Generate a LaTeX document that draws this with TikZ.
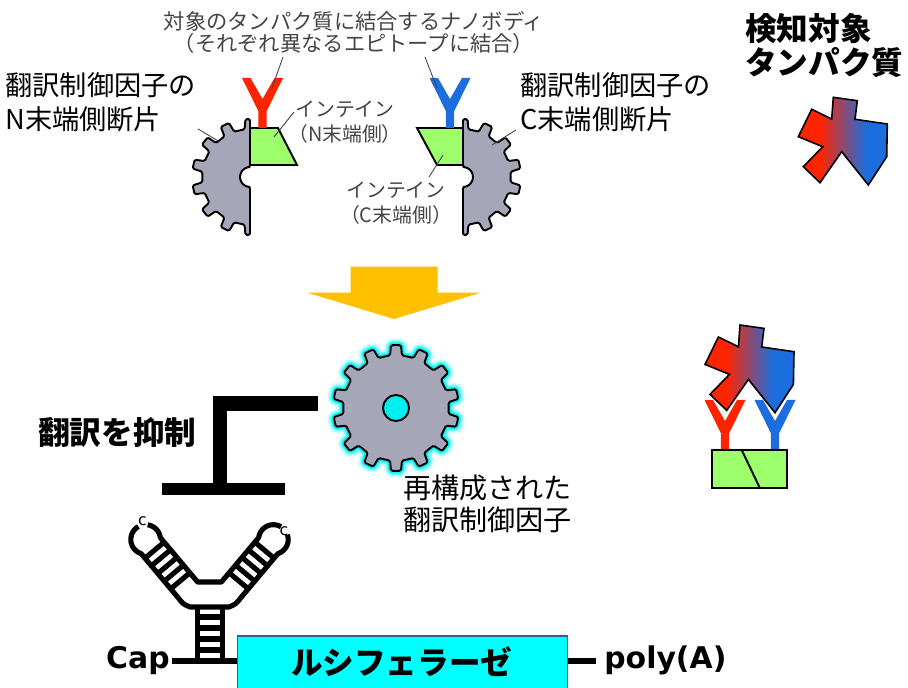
\documentclass[tikz,border=0pt]{standalone}
\usepackage{fontspec}
\newfontfamily\jp{Noto Sans CJK JP}
\newfontfamily\lat{DejaVu Sans}
\definecolor{gearGray}{HTML}{A5A7B9}
\definecolor{intGreen}{HTML}{9DFF6B}
\definecolor{nbRed}{HTML}{FF2400}
\definecolor{nbBlue}{HTML}{1C6EDE}
\definecolor{arrowYel}{HTML}{FFC000}
\definecolor{lucCyan}{HTML}{00FFFF}
\definecolor{lucEdge}{HTML}{3A5A9A}
\definecolor{glowCyan}{HTML}{00F0F0}
\definecolor{noteGray}{HTML}{444444}
\pgfdeclarehorizontalshading{protgrad}{100bp}{color(0bp)=(nbRed); color(37bp)=(nbRed); color(63bp)=(nbBlue); color(100bp)=(nbBlue)}

% full gear outline: 14 teeth, root radius 53, tip radius 63
\newcommand\fullgear{({12.857-6.5}:53) \foreach \k in {0,...,13}{ -- ({12.857+\k*25.714-6.5}:53) -- ({12.857+\k*25.714-4.5}:63) -- ({12.857+\k*25.714+4.5}:63) -- ({12.857+\k*25.714+6.5}:53)} -- cycle}
% left half of a gear with a semicircular notch on the cut edge
\newcommand\halfgear{(90:58) -- (94.5:58) -- (96.5:48) \foreach \k in {4,...,9}{ -- ({12.857+\k*25.714-6.5}:48) -- ({12.857+\k*25.714-4.5}:58) -- ({12.857+\k*25.714+4.5}:58) -- ({12.857+\k*25.714+6.5}:48)} -- (263.5:48) -- (265.5:58) -- (270:58) -- (0,-10) -- plot[domain=270:90,samples=19] ({10*cos(\x)},{10*sin(\x)}) -- cycle}

\tikzset{
  lbl/.style={font=\jp\fontsize{15.5}{19.3}\selectfont, align=left, inner sep=0pt},
  regenlbl/.style={font=\jp\fontsize{16}{18.1}\selectfont, align=left, inner sep=0pt},
  graylbl/.style={font=\jp\fontsize{12.1}{12.5}\selectfont, text=noteGray, align=center, inner sep=0pt},
  smalllbl/.style={font=\jp\fontsize{11.3}{14.2}\selectfont, text=noteGray, align=center, inner sep=0pt},
  boldlbl/.style={font=\jp\bfseries\fontsize{18}{19.8}\selectfont, align=left, inner sep=0pt},
  latbold/.style={font=\lat\bfseries\fontsize{17}{20}\selectfont, inner sep=0pt},
  leader/.style={draw=noteGray, line width=0.5pt},
  gearbody/.style={fill=gearGray, draw=black, line width=1.1pt, line join=round, rounded corners=0.8pt},
  intein/.style={fill=intGreen, draw=black, line width=1.1pt, line join=miter},
  rna/.style={draw=black, line width=2.9pt, line join=round},
  backbone/.style={draw=black, line width=3pt},
  nanobody/.pic={\fill[#1] (-20.5,0) -- (-12,0) -- (0,21) -- (12,0) -- (20.5,0) -- (4.2,33) -- (4.2,50) -- (-4.2,50) -- (-4.2,33) -- cycle;},
  protein/.pic={\shadedraw[shading=protgrad, draw=black, line width=0.9pt, line join=miter] (-21.6,12) -- (-1.6,21.7) -- (0,0) -- (24,3.4) -- (21.7,22) -- (54,26.7) -- (53.4,59.4) -- (35,87.7) -- (8.4,54.4) -- (-13.3,85.4) -- (-30,69.4) -- (-10.6,49.4) -- (-35,39.4) -- cycle;}
}

\begin{document}
\begin{tikzpicture}[x=0.02cm, y=-0.02cm]
\useasboundingbox (0,0) rectangle (908,688);
\clip (0,0) rectangle (908,688);

% ---------- split translation factor with nanobodies ----------
\node[graylbl] (nbLabel) at (354,32) {対象のタンパク質に結合するナノボディ\\（それぞれ異なるエピトープに結合）};
\node[lbl, anchor=west] (nLabel) at (5,102) {翻訳制御因子の\\N末端側断片};
\node[lbl, anchor=west] (cLabel) at (520,102) {翻訳制御因子の\\C末端側断片};
\node[smalllbl] (intNLabel) at (345,122.5) {インテイン\\（N末端側）};
\node[smalllbl] (intCLabel) at (396,203) {インテイン\\（C末端側）};

\begin{scope}[shift={(250,177)}]
  \draw[gearbody] \halfgear;
\end{scope}
\begin{scope}[shift={(463,177)}, xscale=-1]
  \draw[gearbody] \halfgear;
\end{scope}

\draw[intein] (250,128) -- (278,128) -- (297,165) -- (250,165) -- cycle;
\draw[intein] (417,128) -- (463,128) -- (463,165) -- (437,165) -- cycle;

\pic (nbN) at (262.5,78) {nanobody=nbRed};
\pic (nbC) at (450,78) {nanobody=nbBlue};

% leader lines
\draw[leader] (283,57) -- (272,88);
\draw[leader] (425,57) -- (437,88);
\draw[leader] (198,129) -- (220,142);
\draw[leader] (294,112) -- (274,137);
\draw[leader] (516,130) -- (492,145);
\draw[leader] (443,155) -- (429,177);

% ---------- target protein ----------
\node[boldlbl, anchor=west] (target) at (745,45.5) {検知対象\\タンパク質};
\pic (protTop) at (833.3,97.3) {protein};

% ---------- block arrow ----------
\fill[arrowYel] (350.7,266.7) -- (437.7,266.7) -- (437.7,292.7) -- (480.7,292.7) -- (394,319) -- (307.3,292.7) -- (350.7,292.7) -- cycle;

% ---------- reconstituted factor (glowing gear) ----------
\foreach \w/\o in {9/0.06,7.5/0.12,6/0.22,4.5/0.42,3/0.9}
  \draw[shift={(396,408)}, draw=glowCyan, line width=\w pt, opacity=\o, line join=round, rounded corners=0.8pt] \fullgear;
\draw[gearbody, shift={(396,408)}] \fullgear;
\draw[fill=glowCyan, draw=black, line width=1.1pt] (396,408) circle[radius=0.26cm];
\node[regenlbl, anchor=west] (regen) at (403,504) {再構成された\\翻訳制御因子};

% ---------- repression bar ----------
\node[boldlbl, anchor=west] (repress) at (38,432) {翻訳を抑制};
\fill (213,396) rectangle (227,489);
\fill (213,396) rectangle (318,411);
\fill (162,483) rectangle (285,495);

% ---------- assembled complex ----------
\pic (nbN2) at (725,400) {nanobody=nbRed};
\pic (nbC2) at (775,400) {nanobody=nbBlue};
\draw[intein] (711.7,450) rectangle (786.7,488.3);
\draw[black, line width=1.1pt] (741.7,450) -- (760,488.3);
\pic (protBound) at (740,325) {protein};

% ---------- mRNA with hairpin ----------
\draw[rna] (178.4,598) -- (141.1,553.6) -- plot[domain=107.7:241,samples=20] ({145.6+14.8*cos(\x)},{539.5+14.8*sin(\x)});
\draw[rna] plot[domain=278:352.6,samples=12] ({145.6+14.8*cos(\x)},{539.5+14.8*sin(\x)}) -- (160.3,537.6) -- (197.6,582) -- (221.4,582) -- (258.7,537.6) -- plot[domain=187.4:301,samples=20] ({273.4+14.8*cos(\x)},{539.5+14.8*sin(\x)});
\draw[rna] plot[domain=341:432.3,samples=15] ({273.4+14.8*cos(\x)},{539.5+14.8*sin(\x)}) -- (277.9,553.6) -- (240.6,598) .. controls (236,604) .. (229,607) -- (190,607) .. controls (183,604) .. (178.4,598);
\foreach \d in {12,22,32,42,52} {
  \draw[rna] ({188-0.643*\d-9.575},{590-0.766*\d+8.04}) -- ({188-0.643*\d+9.575},{590-0.766*\d-8.04});
  \draw[rna] ({231+0.643*\d+9.575},{590-0.766*\d+8.04}) -- ({231+0.643*\d-9.575},{590-0.766*\d-8.04});
}
\draw[rna] (197.5,607) -- (197.5,661);
\draw[rna] (222.5,607) -- (222.5,661);
\foreach \yy in {617,628,639,650} \draw[rna] (197.5,\yy) -- (222.5,\yy);
\node[font=\lat\fontsize{9}{10}\selectfont, inner sep=0pt] (ntL) at (142.5,521) {c};
\node[font=\lat\fontsize{9}{10}\selectfont, inner sep=0pt] (ntR) at (284,531) {c};

\node[latbold, anchor=base east] (cap) at (170,668) {Cap};
\coordinate (capEnd) at (172,661);
\coordinate (polyEnd) at (596,661);
\node[draw=lucEdge, fill=lucCyan, line width=0.9pt, minimum width=6.6cm, minimum height=1.3cm, inner sep=0pt, anchor=north west] (lucBox) at (236.7,635) {};
\draw[backbone] (capEnd) -- (capEnd -| lucBox.west);
\draw[backbone] (capEnd -| lucBox.east) -- (polyEnd);
\node[font=\jp\bfseries\fontsize{18}{20}\selectfont, inner sep=0pt] (lucText) at (401.7,661.5) {ルシフェラーゼ};
\node[latbold, anchor=base west] (polyA) at (604,668) {poly(A)};
\end{tikzpicture}
\end{document}
